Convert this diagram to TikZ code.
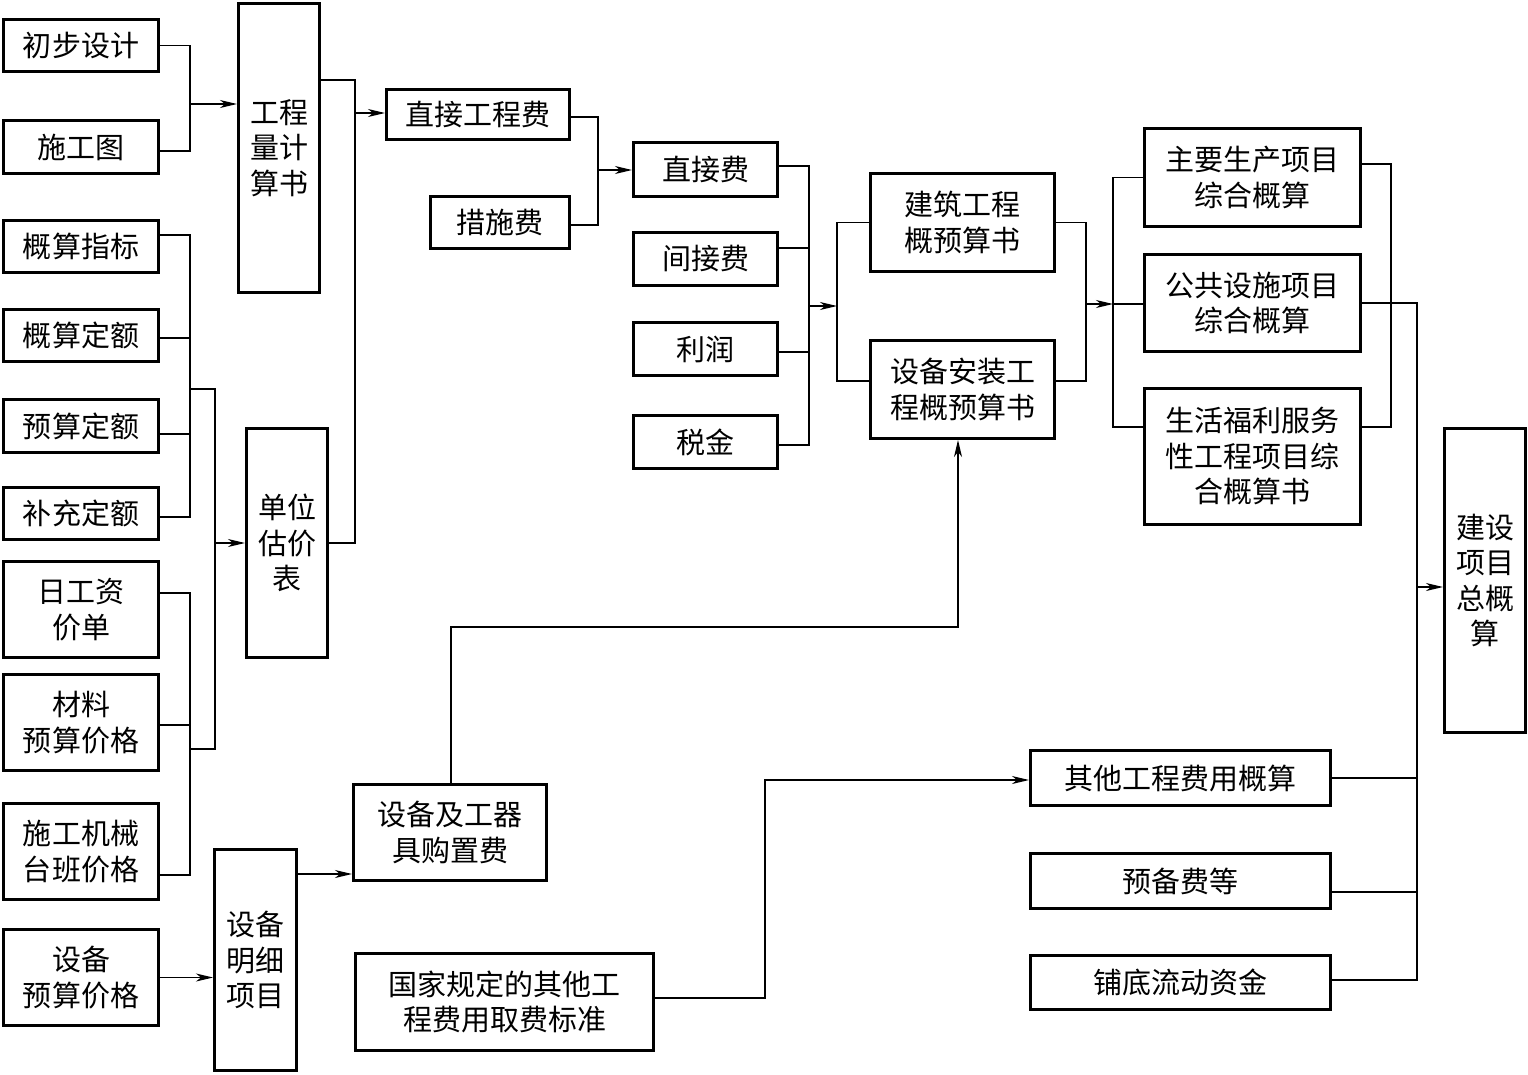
\documentclass[tikz,border=0pt]{standalone}
\usepackage{fontspec}
\setmainfont{Noto Sans CJK SC}
\usetikzlibrary{arrows.meta}
\begin{document}
\begin{tikzpicture}[x=1pt,y=1pt,
  box/.style={draw,line width=3pt,rectangle,inner sep=0pt,align=center,
    font=\fontsize{29}{35.5}\selectfont},
  con/.style={line width=1.4pt},
  arr/.style={line width=1.4pt,-{Stealth[length=17pt,width=8pt,inset=5pt]}}]
\useasboundingbox (0,0) rectangle (1528,-1074);
\fill[white] (0,0) rectangle (1528,-1074);
% left column
\node[box,minimum width=155pt,minimum height=52pt] (b1) at (81,-45.5) {初步设计};
\node[box,minimum width=155pt,minimum height=53pt] (b2) at (81,-147) {施工图};
\node[box,minimum width=81pt,minimum height=289pt] (gcl) at (279,-148) {工程\\量计\\算书};
\node[box,minimum width=155pt,minimum height=52pt] (b3) at (81,-246.5) {概算指标};
\node[box,minimum width=155pt,minimum height=52pt] (b4) at (81,-335.5) {概算定额};
\node[box,minimum width=155pt,minimum height=53pt] (b5) at (81,-426) {预算定额};
\node[box,minimum width=155pt,minimum height=52pt] (b6) at (81,-513.5) {补充定额};
\node[box,minimum width=81pt,minimum height=229pt] (dwgj) at (287,-543) {单位\\估价\\表};
\node[box,minimum width=155pt,minimum height=96pt] (b7) at (81,-609.5) {日工资\\价单};
\node[box,minimum width=155pt,minimum height=96pt] (b8) at (81,-722.5) {材料\\预算价格};
\node[box,minimum width=155pt,minimum height=96pt] (b9) at (81,-851.5) {施工机械\\台班价格};
\node[box,minimum width=155pt,minimum height=96pt] (b10) at (81,-977.5) {设备\\预算价格};
\node[box,minimum width=82pt,minimum height=221pt] (sbmx) at (255.5,-960) {设备\\明细\\项目};
\node[box,minimum width=193pt,minimum height=96pt] (sbgq) at (450,-832.5) {设备及工器\\具购置费};
\node[box,minimum width=298pt,minimum height=97pt] (gjgd) at (504.5,-1002) {国家规定的其他工\\程费用取费标准};
% middle
\node[box,minimum width=183pt,minimum height=50pt] (zjgc) at (478,-114.5) {直接工程费};
\node[box,minimum width=139pt,minimum height=52pt] (csf) at (500,-222.5) {措施费};
\node[box,minimum width=144pt,minimum height=54pt] (zjf) at (705.5,-169.5) {直接费};
\node[box,minimum width=144pt,minimum height=53pt] (jjf) at (705.5,-259) {间接费};
\node[box,minimum width=144pt,minimum height=53pt] (lr) at (705.5,-349) {利润};
\node[box,minimum width=144pt,minimum height=53pt] (sj) at (705.5,-442) {税金};
\node[box,minimum width=184pt,minimum height=98pt] (jzgc) at (962.5,-222.5) {建筑工程\\概预算书};
\node[box,minimum width=184pt,minimum height=98pt] (sbaz) at (962.5,-389.5) {设备安装工\\程概预算书};
% right
\node[box,minimum width=216pt,minimum height=98pt] (zysc) at (1252.5,-177.5) {主要生产项目\\综合概算};
\node[box,minimum width=216pt,minimum height=97pt] (ggss) at (1252.5,-303) {公共设施项目\\综合概算};
\node[box,minimum width=216pt,minimum height=136pt] (shfl) at (1252.5,-456.5) {生活福利服务\\性工程项目综\\合概算书};
\node[box,minimum width=81pt,minimum height=304pt] (total) at (1485,-580.5) {建设\\项目\\总概\\算};
\node[box,minimum width=300pt,minimum height=55pt] (qtgc) at (1180.5,-778) {其他工程费用概算};
\node[box,minimum width=300pt,minimum height=55pt] (ybf) at (1180.5,-881) {预备费等};
\node[box,minimum width=300pt,minimum height=54pt] (pdld) at (1180.5,-982.5) {铺底流动资金};
% junction coordinates
\coordinate (j1) at (190,-104);
\coordinate (j2) at (355,-113);
\coordinate (bA) at (190,-389);
\coordinate (bB) at (190,-749);
\coordinate (cA) at (215,-389);
\coordinate (cB) at (215,-749);
\coordinate (cC) at (215,-543);
\coordinate (k) at (958,-627);
\coordinate (m) at (765,-780);
\coordinate (n) at (598,-170);
\coordinate (p) at (809,-306);
\coordinate (q) at (837,-306);
\coordinate (r) at (1086,-304);
\coordinate (s) at (1113,-304);
\coordinate (u) at (1391,-303);
\coordinate (t) at (1417,-587);
% connectors
\draw[con] (b1.east) -| (j1) |- ([yshift=-4pt]b2.east);
\draw[arr] (j1) -- (j1 -| gcl.west);
\draw[con] ([yshift=68pt]gcl.east) -| (j2) |- (dwgj.east);
\draw[arr] (j2) -- (j2 -| zjgc.west);
\draw[con] ([yshift=11.5pt]b3.east) -| (bA) |- ([yshift=-3.5pt]b6.east);
\draw[con] ([yshift=-2.5pt]b4.east) -- ([yshift=-2.5pt]b4.east -| bA);
\draw[con] ([yshift=-8pt]b5.east) -- ([yshift=-8pt]b5.east -| bA);
\draw[con] ([yshift=16.5pt]b7.east) -| (bB) |- ([yshift=-23.5pt]b9.east);
\draw[con] ([yshift=-2.5pt]b8.east) -- ([yshift=-2.5pt]b8.east -| bB);
\draw[con] (bA) -- (cA) -- (cB) -- (bB);
\draw[arr] (cC) -- (cC -| dwgj.west);
\draw[arr] (b10.east) -- (b10.east -| sbmx.west);
\draw[arr] ([yshift=86pt]sbmx.east) -- ([yshift=86pt]sbmx.east -| sbgq.west);
\draw[arr] ([xshift=1pt]sbgq.north) |- (k) -- (k |- sbaz.south);
\draw[arr] ([yshift=4pt]gjgd.east) -| (m) -- (m -| qtgc.west);
\draw[con] ([yshift=-2.5pt]zjgc.east) -| (n) |- ([yshift=-2.5pt]csf.east);
\draw[arr] (n) -- (n -| zjf.west);
\draw[con] ([yshift=3.5pt]zjf.east) -| (p) |- ([yshift=-3pt]sj.east);
\draw[con] ([yshift=11pt]jjf.east) -- ([yshift=11pt]jjf.east -| p);
\draw[con] ([yshift=-3pt]lr.east) -- ([yshift=-3pt]lr.east -| p);
\draw[arr] (p) -- (q);
\draw[con] (jzgc.west) -| (q) |- ([yshift=8.5pt]sbaz.west);
\draw[con] (jzgc.east) -| (r) |- ([yshift=8.5pt]sbaz.east);
\draw[arr] (r) -- (s);
\draw[con] (zysc.west) -| (s) |- ([yshift=29.5pt]shfl.west);
\draw[con] (s) -- (s -| ggss.west);
\draw[con] ([yshift=13.5pt]zysc.east) -| (u) |- ([yshift=29.5pt]shfl.east);
\draw[con] (ggss.east) -| (t) |- ([yshift=2.5pt]pdld.east);
\draw[con] (qtgc.east) -- (qtgc.east -| t);
\draw[con] ([yshift=-11pt]ybf.east) -- ([yshift=-11pt]ybf.east -| t);
\draw[arr] (t) -- (t -| total.west);
\end{tikzpicture}
\end{document}
